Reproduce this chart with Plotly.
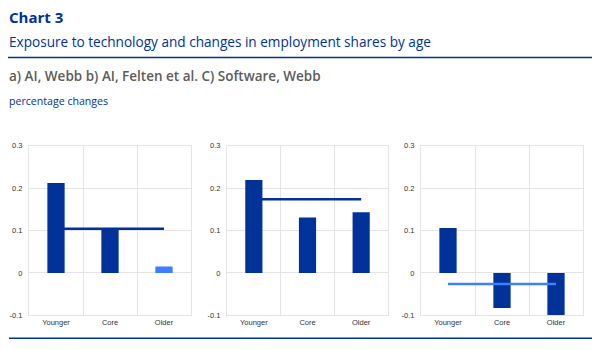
import plotly.graph_objects as go

categories = ["Younger", "Core", "Older"]
ai_webb = [0.212, 0.104, 0.015]
ai_felten = [0.219, 0.131, 0.143]
software_webb = [0.106, -0.083, -0.100]
averages = [0.104, 0.174, -0.026]
y_ticks = [-0.1, 0, 0.1, 0.2, 0.3]
y_tick_labels = ["-0.1", "0", "0.1", "0.2", "0.3"]

DARK = "#003299"
LIGHT = "#3d7fff"
bar_colors = [[DARK, DARK, LIGHT], [DARK, DARK, DARK], [DARK, DARK, DARK]]
line_colors = [DARK, DARK, LIGHT]
line_layers = ["between", "between", "above"]
series = [ai_webb, ai_felten, software_webb]

W, H = 600, 350
x_domains = [(29, 191), (227, 388), (421, 583)]
y_dom = (1 - 319.5 / H, 1 - 145.5 / H)

fig = go.Figure()
for i, vals in enumerate(series):
    n = "" if i == 0 else str(i + 1)
    fig.add_trace(go.Bar(x=categories, y=vals, marker=dict(color=bar_colors[i], line=dict(width=0)),
                         width=0.32, xaxis="x" + n, yaxis="y" + n, showlegend=False))
    fig.add_shape(type="line", xref="x" + n, yref="y" + n, x0=categories[0], x1=categories[-1],
                  y0=averages[i], y1=averages[i], line=dict(color=line_colors[i], width=2.5),
                  layer=line_layers[i])
    fig.layout["xaxis" + n] = dict(domain=[x_domains[i][0] / W, x_domains[i][1] / W], anchor="y" + n,
                                   type="category", tickson="boundaries", showgrid=True,
                                   gridcolor="#e4e4e4", gridwidth=1, ticks="", showline=True,
                                   linecolor="#e4e4e4", mirror=True,
                                   tickfont=dict(family="Liberation Sans", size=7.5, color="#333"),
                                   fixedrange=True)
    fig.layout["yaxis" + n] = dict(domain=list(y_dom), anchor="x" + n, range=[-0.1, 0.3],
                                   tickvals=y_ticks, ticktext=y_tick_labels, showgrid=True,
                                   gridcolor="#e4e4e4", gridwidth=1, zeroline=False, ticks="",
                                   showline=True, linecolor="#e4e4e4", mirror=True,
                                   ticklabelstandoff=4,
                                   tickfont=dict(family="Liberation Sans", size=7.5, color="#333"),
                                   fixedrange=True)

# header / decorations
fig.add_shape(type="line", xref="paper", yref="paper", x0=8 / W, x1=592 / W,
              y0=1 - 55 / H, y1=1 - 55 / H, line=dict(color=DARK, width=1.5))
fig.add_shape(type="line", xref="paper", yref="paper", x0=9 / W, x1=592 / W,
              y0=1 - 343 / H, y1=1 - 343 / H, line=dict(color=DARK, width=1.5))

texts = [
    ("Chart 3", 13, 15, DARK, 700),
    ("Exposure to technology and changes in employment shares by age", 38, 13.6, DARK, 400),
    ("a) AI, Webb b) AI, Felten et al. C) Software, Webb", 74, 13.5, "#5c5c5c", 600),
    ("percentage changes", 100, 10.6, DARK, 400),
]
for t, yc, sz, col, wt in texts:
    fig.add_annotation(text=t, xref="paper", yref="paper", x=7 / W, y=1 - yc / H,
                       xanchor="left", yanchor="middle", showarrow=False,
                       font=dict(family="Open Sans", size=sz, color=col, weight=wt))

fig.update_layout(width=W, height=H, margin=dict(l=0, r=0, t=0, b=0),
                  paper_bgcolor="white", plot_bgcolor="white", bargap=0.68)
fig.write_html("out.html")
